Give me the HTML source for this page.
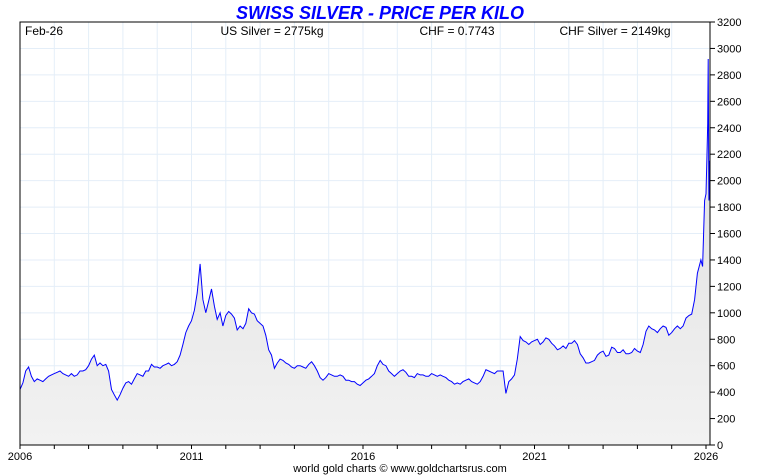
<!DOCTYPE html>
<html><head><meta charset="utf-8"><style>
body{margin:0;background:#fff}
svg{display:block;font-family:"Liberation Sans",sans-serif}
</style></head><body>
<svg id="chart" width="760" height="475">
<defs><linearGradient id="fillg" x1="0" y1="0" x2="0" y2="1"><stop offset="0" stop-color="#dcdcdc"/><stop offset="1" stop-color="#f2f2f2"/></linearGradient></defs>
<text x="380" y="19" text-anchor="middle" font-size="18" font-weight="bold" font-style="italic" fill="#0000ff">SWISS SILVER - PRICE PER KILO</text>
<g id="grid"></g>
<path id="area" fill="url(#fillg)"/>
<path id="line" fill="none" stroke="#0000ff" stroke-width="1"/>
<rect x="20" y="22" width="690" height="423" fill="none" stroke="#000" stroke-width="1"/>
<g id="axes"></g>
<text x="25" y="35" font-size="12">Feb-26</text>
<text x="272" y="35" font-size="12" text-anchor="middle">US Silver = 2775kg</text>
<text x="457" y="35" font-size="12" text-anchor="middle">CHF = 0.7743</text>
<text x="615" y="35" font-size="12" text-anchor="middle">CHF Silver = 2149kg</text>
<text x="400" y="472" font-size="11" text-anchor="middle">world gold charts © www.goldchartsrus.com</text>
</svg>
<script>
const startYear = 2006;
const monthlyPrices = [
420,470,560,590,520,480,500,490,480,500,520,530,
540,550,560,540,530,520,540,520,530,560,560,570,
600,650,680,600,620,600,610,560,420,380,340,380,
430,470,480,460,500,540,530,520,560,560,610,590,
590,580,600,610,620,600,610,630,680,760,850,900,
940,1020,1150,1370,1100,1000,1090,1180,1050,950,1000,900,
980,1010,990,960,870,900,880,920,1030,1000,990,940,
920,900,830,720,680,580,620,650,640,620,610,590,
580,600,600,590,580,610,630,600,560,510,490,510,
540,530,520,520,530,520,490,490,480,480,460,450,
470,490,500,520,540,600,640,610,600,560,540,520,
540,560,570,550,520,520,510,540,530,530,520,520,
540,530,520,530,520,510,490,480,460,470,460,480,
490,500,480,470,460,480,520,570,560,550,540,560,
560,560,390,480,500,530,650,820,790,780,760,780,
790,800,760,780,810,800,770,750,720,730,750,730,
770,770,790,760,690,660,620,620,630,640,680,700,
710,670,680,740,730,700,700,720,690,690,700,730,
710,700,760,860,900,880,870,850,880,900,890,830,
850,880,900,880,900,960,980,990,1100,1300];
const tailDates = [2025.85,2025.9,2025.93,2025.96,2026.0,2026.03,2026.05,2026.065,2026.075,2026.085,2026.095,2026.11,2026.12];
const tailPrices = [1400,1350,1600,1850,1900,2200,2430,2920,2300,1850,2150,1870,1850];
const yTicks = [0,200,400,600,800,1000,1200,1400,1600,1800,2000,2200,2400,2600,2800,3000,3200];
const xLabels = [2006,2011,2016,2021,2026];

const NS="http://www.w3.org/2000/svg";
const X0=20,X1=706,T0=2006,T1=2026,YB=445,YT=22,VMAX=3200;
const xs=t=>X0+(t-T0)/(T1-T0)*(X1-X0);
const ys=v=>YB-v/VMAX*(YB-YT);
function mk(tag,attrs,parent){const e=document.createElementNS(NS,tag);for(const k in attrs)e.setAttribute(k,attrs[k]);parent.appendChild(e);return e;}
const grid=document.getElementById('grid'),axes=document.getElementById('axes');
for(const v of yTicks){
  if(v>0&&v<VMAX){const l=mk('line',{x1:20,x2:710,y1:ys(v),y2:ys(v),stroke:'#e4eef8'},grid);
  
  }
  const t=mk('line',{x1:710,x2:715,y1:ys(v),y2:ys(v),stroke:'#000'},axes);
  
  
  const tx=mk('text',{x:717,y:ys(v)+4,'font-size':11},axes);tx.textContent=v;
  
  
}
for(let y=2007;y<=2025;y++){
  const l=mk('line',{x1:xs(y),x2:xs(y),y1:22,y2:445,stroke:'#e4eef8'},grid);
  
  
}
for(let y=2006;y<=2026;y++){
  const t=mk('line',{x1:xs(y),x2:xs(y),y1:445,y2:449,stroke:'#000'},axes);
  
  
}
for(const y of xLabels){
  const tx=mk('text',{x:xs(y),y:460,'font-size':11,'text-anchor':'middle'},axes);tx.textContent=y;
  
  
}
const pts=[];
monthlyPrices.forEach((v,i)=>pts.push([xs(startYear+i/12),ys(v)]));
tailDates.forEach((d,i)=>pts.push([xs(d),ys(tailPrices[i])]));
const d=pts.map((p,i)=>(i?'L':'M')+p[0].toFixed(1)+' '+p[1].toFixed(1)).join('');
document.getElementById('line').setAttribute('d',d);
document.getElementById('area').setAttribute('d',d+`L${pts[pts.length-1][0].toFixed(1)} ${YB}L${pts[0][0].toFixed(1)} ${YB}Z`);
</script>
</body></html>
